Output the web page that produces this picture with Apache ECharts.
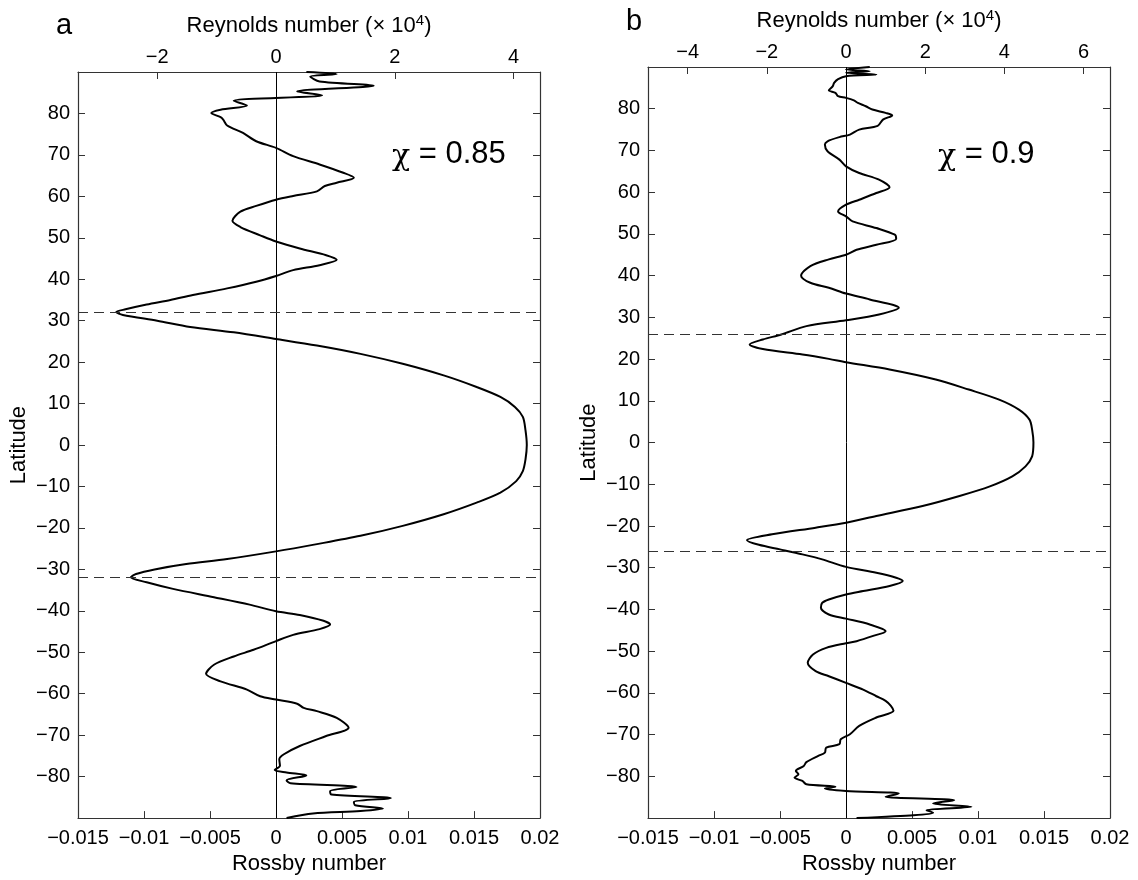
<!DOCTYPE html>
<html>
<head>
<meta charset="utf-8">
<title>Rossby and Reynolds number profiles</title>
<script src="https://cdn.jsdelivr.net/npm/echarts@6/dist/echarts.min.js"></script>
<style>
  html, body { margin: 0; padding: 0; background: #fff; }
  #chart { width: 1138px; height: 880px; }
</style>
</head>
<body>
<div id="chart"></div>
<script>
// Latitude (degrees) and Rossby number along each profile, north to south
const latA = [90, 89.5, 88.9, 87.7, 86.7, 85.3, 84.4, 83.05, 81.9, 80.9, 80.1, 79.1, 78.5, 77.1, 75.3, 73.3,
  71.7, 69.7, 67.7, 65.7, 64.5, 63.3, 62.5, 61.2, 60.1, 59.2, 57.7, 56.3, 54.1, 52.6, 50.6, 49.1, 47.4,
  45.8, 44.7, 43.4, 42.2, 40.8, 39.4, 37.8, 36.2, 35.0, 33.9, 32.75, 32.1, 31.4, 30.0, 28.5, 27.2, 25.6,
  24.0, 22.0, 19.6, 16.8, 14.0, 11.6, 9.2, 6.8, 3.6, 0, -3.5, -6.3, -8.7, -11.5, -13.9, -16.7, -19.5,
  -21.9, -23.9, -25.65, -27.5, -28.7, -30.0, -31.1, -31.9, -33.1, -34.7, -36.7, -38.5, -40.1, -41.0,
  -42.4, -43.3, -44.4, -45.8, -47.3, -49.4, -51.0, -53.0, -55.2, -57.0, -59.0, -60.6, -61.4, -62.4,
  -63.4, -64.2, -65.8, -68.2, -70.2, -72.6, -74.6, -75.8, -77.4, -78.4, -79.0, -79.7, -80.9, -81.6,
  -82.5, -83.5, -84.3, -85.2, -86.1, -86.9, -87.7, -88.3, -88.9, -90];
const rossbyA = [0.0023, 0.0046, 0.0026, 0.0033, 0.0074, 0.0016, 0.0035, -0.0032, -0.0022, -0.0042, -0.0049,
  -0.0042, -0.0040, -0.0037, -0.0025, -0.0015, 0, 0.0013, 0.0033, 0.0051, 0.0059, 0.0046, 0.0037, 0.0031,
  0.0013, 0, -0.0015, -0.0027, -0.0033, -0.0027, -0.0012, 0, 0.0018, 0.0038, 0.0046, 0.0033, 0.0013, 0,
  -0.0015, -0.0037, -0.0063, -0.0080, -0.0098, -0.0114, -0.0121, -0.0116, -0.0090, -0.0065, -0.0032, 0,
  0.0031, 0.0064, 0.0096, 0.0127, 0.0152, 0.0170, 0.0181, 0.0187, 0.0189, 0.0190, 0.0189, 0.0187, 0.0182,
  0.0170, 0.0152, 0.0127, 0.0096, 0.0064, 0.0031, 0, -0.0037, -0.0068, -0.0092, -0.0106, -0.0110, -0.0098,
  -0.0078, -0.0047, -0.0020, 0, 0.0018, 0.0036, 0.0041, 0.0033, 0.0013, 0, -0.0017, -0.0032, -0.0047,
  -0.0053, -0.0042, -0.0022, -0.0012, 0, 0.0016, 0.0021, 0.0031, 0.0046, 0.0055, 0.0038, 0.0018, 0.0006,
  0.00025, 0.0003, -0.0001, 0.0008, 0.0023, 0.0008, 0.0011, 0.0061, 0.0041, 0.0042, 0.0087, 0.0059, 0.0060,
  0.0081, 0.0064, 0.0028, 0.0008];

const latB = [90, 89.4, 89.0, 88.6, 88.2, 87.8, 87.1, 86.2, 85.4, 84.4, 83.8, 83.0, 82.6, 82.0, 81.4, 80.6,
  79.8, 79.0, 78.4, 77.4, 75.9, 75.0, 73.8, 73.2, 72.2, 71.4, 69.8, 67.8, 66.2, 64.6, 63.0, 61.2, 59.8,
  58.2, 57.0, 55.4, 54.2, 53.0, 51.4, 49.8, 48.8, 47.4, 46.2, 45.0, 43.9, 42.3, 40.0, 38.3, 37.1, 35.7,
  34.3, 32.3, 30.7, 29.3, 27.9, 25.9, 24.7, 23.5, 22.4, 21.1, 20.05, 19.25, 17.5, 15.1, 12.7, 10.3, 7.9,
  5.5, 3.1, 0, -3.3, -5.7, -8.1, -10.5, -12.8, -15.2, -17.6, -19.2, -20.4, -22.0, -23.4, -24.5, -25.6,
  -26.8, -28.0, -29.8, -31.2, -32.4, -33.2, -34.4, -35.6, -36.4, -37.6, -38.4, -39.6, -41.2, -42.2, -43.6,
  -45.2, -46.4, -47.6, -48.1, -49.2, -50.8, -52.8, -54.8, -56.0, -57.6, -59.2, -60.8, -61.9, -63.1, -64.3,
  -65.9, -67.9, -69.9, -71.1, -72.3, -73.1, -74.3, -75.1, -76.6, -77.5, -78.7, -79.5, -80.3, -81.1, -81.9,
  -82.5, -82.9, -83.5, -84.1, -84.9, -85.7, -86.5, -87.3, -88.1, -88.7, -89.3, -90];
const rossbyB = [0.0018, 0, 0.0018, 0, 0.0023, 0, -0.0006, -0.0009, -0.0010, -0.0013, -0.0008, -0.0006, 0,
  0.0006, 0.0009, 0.0015, 0.0020, 0.0030, 0.0035, 0.0028, 0.0024, 0.0010, 0.0003, -0.0005, -0.0014, -0.0016,
  -0.0014, -0.0005, 0, 0.0010, 0.0025, 0.0033, 0.0023, 0.0010, 0, -0.0006, 0, 0.0005, 0.0023, 0.0037, 0.0038,
  0.0023, 0.0008, 0, -0.0013, -0.0027, -0.0034, -0.0027, -0.0013, 0, 0.0018, 0.0040, 0.0025, 0, -0.0030,
  -0.0049, -0.0063, -0.0073, -0.0063, -0.0033, -0.0013, 0, 0.0033, 0.0068, 0.0093, 0.0116, 0.0131, 0.0139,
  0.0141, 0.0142, 0.0141, 0.0136, 0.0126, 0.0109, 0.0086, 0.0058, 0.0023, 0, -0.0023, -0.0056, -0.0075,
  -0.0066, -0.0050, -0.0033, -0.0018, 0, 0.0023, 0.0038, 0.0043, 0.0033, 0.0013, 0, -0.0013, -0.0018,
  -0.0019, -0.0013, 0, 0.0018, 0.0030, 0.0020, 0.0008, 0, -0.0015, -0.0025, -0.0029, -0.0023, -0.0013, 0,
  0.0013, 0.0023, 0.0030, 0.0034, 0.0036, 0.0023, 0.0010, 0.0003, -0.0004, -0.0005, -0.0015, -0.0016,
  -0.0021, -0.0030, -0.0032, -0.0038, -0.0036, -0.0039, -0.0033, -0.0030, -0.0008, -0.0016, 0, 0.0040,
  0.0030, 0.0082, 0.0066, 0.0095, 0.0061, 0.0066, 0.0051, 0.0008];

// Axis ticks
const rossbyTicks = [-0.015, -0.01, -0.005, 0, 0.005, 0.01, 0.015, 0.02];
const reynoldsTicksA = [-2, 0, 2, 4];
const reynoldsTicksB = [-4, -2, 0, 2, 4, 6];
// Rossby number equivalent to a Reynolds number of 1 x 10^4
const rossbyPerReynoldsA = 0.0045;
const rossbyPerReynoldsB = 0.003;
// Latitudes of the dashed boundaries
const boundaryLatA = [32, -32];
const boundaryLatB = [26, -26];
const panelLetters = ['a', 'b'];
const chiValues = ['0.85', '0.9'];

const FONT = '"Liberation Sans", Arial, Helvetica, sans-serif';
const AXIS_COLOR = '#333';

function signed(v) {
  const s = String(Math.abs(v));
  return v < 0 ? '\u2212' + s : s;
}

const panels = [
  { lat: latA, ro: rossbyA, re: reynoldsTicksA, k: rossbyPerReynoldsA, bounds: boundaryLatA,
    left: 78, top: 72 },
  { lat: latB, ro: rossbyB, re: reynoldsTicksB, k: rossbyPerReynoldsB, bounds: boundaryLatB,
    left: 648, top: 67 }
];
const W = 462, H = 752;

const grid = [], xAxis = [], yAxis = [], series = [];
panels.forEach((p, i) => {
  grid.push({ left: p.left, top: p.top, width: W, height: H, containLabel: false });
  const tick = { show: true, inside: true, length: 7, lineStyle: { color: AXIS_COLOR, width: 1 } };
  const line = { show: true, onZero: false, lineStyle: { color: AXIS_COLOR, width: 1.2 } };
  // bottom: Rossby number
  xAxis.push({
    gridIndex: i, type: 'value', position: 'bottom', min: -0.015, max: 0.02,
    axisLine: line,
    axisTick: Object.assign({}, tick, { customValues: rossbyTicks.filter(v => v !== 0 && v !== -0.015 && v !== 0.02) }),
    axisLabel: { customValues: rossbyTicks, formatter: v => signed(v), color: '#000',
      fontSize: 20, fontFamily: FONT, margin: 10 },
    splitLine: { show: false },
    name: 'Rossby number', nameLocation: 'middle', nameGap: 32,
    nameTextStyle: { color: '#000', fontSize: 22, fontFamily: FONT }
  });
  // top: Reynolds number, on the same scale through the conversion factor
  xAxis.push({
    gridIndex: i, type: 'value', position: 'top', min: -0.015, max: 0.02,
    axisLine: line,
    axisTick: Object.assign({}, tick, { customValues: p.re.map(r => r * p.k) }),
    axisLabel: { customValues: p.re.map(r => r * p.k), formatter: v => signed(Math.round(v / p.k)),
      color: '#000', fontSize: 20, fontFamily: FONT, margin: 5 },
    splitLine: { show: false },
    name: 'Reynolds number (\u00d7 10{sup|4})', nameLocation: 'middle', nameGap: 34,
    nameTextStyle: { color: '#000', fontSize: 22, fontFamily: FONT,
      rich: { sup: { fontSize: 15, fontFamily: FONT, color: '#000', verticalAlign: 'top', padding: [0, 0, 10, 0] } } }
  });
  yAxis.push({
    gridIndex: i, type: 'value', position: 'left', min: -90, max: 90, interval: 10,
    axisLine: line, axisTick: tick,
    axisLabel: { formatter: v => (Math.abs(v) === 90 ? '' : signed(v)), color: '#000',
      fontSize: 20, fontFamily: FONT, margin: 8 },
    splitLine: { show: false },
    name: 'Latitude', nameLocation: 'middle', nameGap: 48,
    nameTextStyle: { color: '#000', fontSize: 22, fontFamily: FONT }
  });
  yAxis.push({
    gridIndex: i, type: 'value', position: 'right', min: -90, max: 90, interval: 10,
    axisLine: line, axisTick: tick, axisLabel: { show: false }, splitLine: { show: false }
  });
  series.push({
    type: 'line', xAxisIndex: 2 * i, yAxisIndex: 2 * i,
    data: p.ro.map((r, j) => [r, p.lat[j]]),
    showSymbol: false, smooth: 0.3,
    lineStyle: { color: '#000', width: 2 },
    z: 3, silent: true,
    markLine: {
      silent: true, symbol: ['none', 'none'], label: { show: false }, animation: false,
      data: [{ xAxis: 0, lineStyle: { color: '#000', width: 1, type: 'solid' } }].concat(
        p.bounds.map(l => ({ yAxis: l, lineStyle: { color: '#333', width: 1.2, type: [10, 6] } })))
    }
  });
});

// Greek chi in a serif face, the value in the sans face
const chiRich = {
  chi: { fontFamily: '"DejaVu Serif", serif', fontSize: 30, fill: '#000', padding: [6, 0, 0, 0] },
  val: { fontFamily: FONT, fontSize: 31, fill: '#000' }
};
const graphic = [
  { type: 'text', left: 56, top: 11, style: { text: panelLetters[0], fontSize: 29, fontFamily: FONT, fill: '#000' } },
  { type: 'text', left: 626, top: 7, style: { text: panelLetters[1], fontSize: 29, fontFamily: FONT, fill: '#000' } },
  { type: 'text', left: 392, top: 139, style: { text: '{chi|\u03c7}{val| = ' + chiValues[0] + '}', rich: chiRich } },
  { type: 'text', left: 938, top: 139, style: { text: '{chi|\u03c7}{val| = ' + chiValues[1] + '}', rich: chiRich } }
];

const chart = echarts.init(document.getElementById('chart'), null, { renderer: 'canvas' });
chart.setOption({
  animation: false,
  backgroundColor: '#fff',
  textStyle: { fontFamily: FONT },
  grid, xAxis, yAxis, series, graphic
});
</script>
</body>
</html>
